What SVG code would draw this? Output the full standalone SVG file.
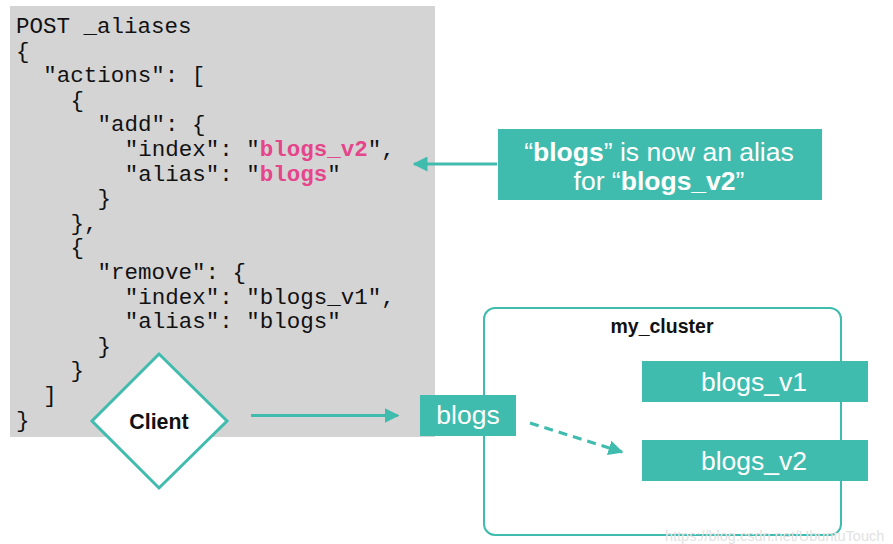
<svg xmlns="http://www.w3.org/2000/svg" width="893" height="544" viewBox="0 0 893 544">
<defs>
<style>
.code{font-family:"Liberation Mono","Courier New",monospace;font-size:22.5px;fill:#111}
.pk{fill:#e5458a;font-weight:bold}
.teal{fill:#40bcae}
.wt{font-family:"Liberation Sans",Arial,sans-serif;fill:#fff;text-anchor:middle}
.lbl{font-family:"Liberation Sans",Arial,sans-serif;fill:#111;font-weight:bold;text-anchor:middle}
.conn{stroke:#40bcae;stroke-width:3;fill:none}
</style>
<marker id="ah" viewBox="0 0 10 10" refX="9" refY="5" markerWidth="5" markerHeight="5" orient="auto-start-reverse" markerUnits="strokeWidth">
<path d="M0,0 L10,5 L0,10 z" fill="#40bcae"/>
</marker>
</defs>
<rect x="0" y="0" width="893" height="544" fill="#fff"/>
<g id="code">
<rect x="10" y="6" width="425" height="431" fill="#d4d4d4"/>
<text class="code" x="16" y="33">POST _aliases</text>
<text class="code" x="16" y="57.6">{</text>
<text class="code" x="43.2" y="82.2">"actions": [</text>
<text class="code" x="70.4" y="106.8">{</text>
<text class="code" x="97.6" y="131.4">"add": {</text>
<text class="code" x="124.8" y="156">"index": "<tspan class="pk">blogs_v2</tspan>",</text>
<text class="code" x="124.8" y="180.6">"alias": "<tspan class="pk">blogs</tspan>"</text>
<text class="code" x="97.6" y="205.2">}</text>
<text class="code" x="70.4" y="229.8">},</text>
<text class="code" x="70.4" y="254.4">{</text>
<text class="code" x="97.6" y="279">"remove": {</text>
<text class="code" x="124.8" y="303.6">"index": "blogs_v1",</text>
<text class="code" x="124.8" y="328.2">"alias": "blogs"</text>
<text class="code" x="97.6" y="352.8">}</text>
<text class="code" x="70.4" y="377.4">}</text>
<text class="code" x="43.2" y="402">]</text>
<text class="code" x="16" y="426.6">}</text>
</g>
<g id="callout">
<rect class="teal" x="498" y="129" width="324" height="71"/>
<text class="wt" x="659" y="161" font-size="26.5">“<tspan font-weight="bold">blogs</tspan>” is now an alias</text>
<text class="wt" x="659" y="190" font-size="26.5">for “<tspan font-weight="bold">blogs_v2</tspan>”</text>
</g>
<g id="cluster">
<rect x="484" y="308" width="357" height="227" rx="11" ry="11" fill="none" stroke="#40bcae" stroke-width="2"/>
<text class="lbl" x="662" y="333" font-size="19.5">my_cluster</text>
</g>
<g id="blogs_v1">
<rect class="teal" x="642" y="361" width="226" height="41"/>
<text class="wt" x="754" y="391" font-size="26.5">blogs_v1</text>
</g>
<g id="blogs_v2">
<rect class="teal" x="642" y="440" width="226" height="41"/>
<text class="wt" x="754" y="470" font-size="26.5">blogs_v2</text>
</g>
<g id="blogs">
<rect class="teal" x="420" y="395" width="96" height="41"/>
<text class="wt" x="468" y="424" font-size="26.5">blogs</text>
</g>
<g id="client">
<polygon points="159,354 227,421 159,488 92,421" fill="#fff" stroke="#40bcae" stroke-width="3"/>
<text class="lbl" x="159" y="429" font-size="21.4">Client</text>
</g>
<g id="connectors">
<line class="conn" x1="497" y1="164" x2="414" y2="164" marker-end="url(#ah)"/>
<line class="conn" x1="251" y1="415.5" x2="398" y2="415.5" marker-end="url(#ah)"/>
<line class="conn" x1="530" y1="423" x2="622" y2="452" stroke-dasharray="9,6" marker-end="url(#ah)"/>
</g>
<text x="665" y="541" font-family="Liberation Sans,Arial,sans-serif" font-size="14.5" fill="#e2e2e2">https://blog.csdn.net/UbuntuTouch</text>
</svg>
